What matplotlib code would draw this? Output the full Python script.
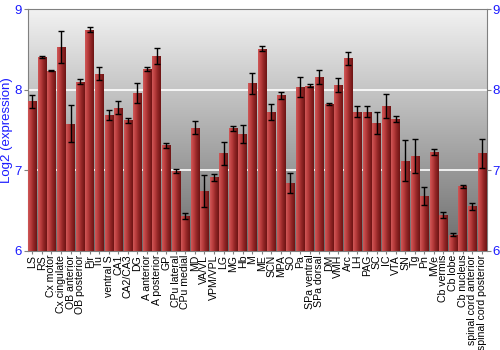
import numpy as np
import matplotlib.pyplot as plt
from matplotlib.colors import LinearSegmentedColormap

plt.rcParams["font.family"] = ["Liberation Sans", "DejaVu Sans"]

regions = [
    "LS", "RS", "Cx motor", "Cx cingulate", "OB anterior", "OB posterior", "Pir", "Tu",
    "ventral S", "CA1", "CA2/CA3", "DG", "A anterior", "A posterior", "GP", "CPu lateral",
    "CPu medial", "MD", "VA/VL", "VPM/VPL", "LG", "MG", "Hb", "M", "ME", "SCN", "MPA", "SO",
    "Pa", "SPa ventral", "SPa dorsal", "DM", "VMH", "Arc", "LH", "PAG", "SC", "IC", "VTA",
    "SN", "Tg", "Pn", "MVe", "Cb vermis", "Cb lobe", "Cb nucleus", "spinal cord anterior",
    "spinal cord posterior",
]
expression = [
    7.86, 8.41, 8.24, 8.53, 7.58, 8.10, 8.75, 8.20,
    7.69, 7.78, 7.62, 7.96, 8.26, 8.42, 7.31, 6.99,
    6.43, 7.53, 6.74, 6.91, 7.21, 7.52, 7.45, 8.08, 8.51, 7.72, 7.93, 6.84,
    8.04, 8.05, 8.16, 7.82, 8.06, 8.39, 7.73, 7.73, 7.59, 7.80, 7.64,
    7.12, 7.18, 6.68, 7.23, 6.44, 6.20, 6.80, 6.55,
    7.21,
]
errors = [
    0.08, 0.01, 0.01, 0.20, 0.23, 0.03, 0.03, 0.08,
    0.06, 0.08, 0.03, 0.13, 0.03, 0.10, 0.03, 0.03,
    0.04, 0.085, 0.20, 0.04, 0.14, 0.03, 0.11, 0.13, 0.03, 0.10, 0.04, 0.12,
    0.125, 0.02, 0.09, 0.01, 0.09, 0.085, 0.07, 0.07, 0.14, 0.15, 0.04,
    0.25, 0.21, 0.11, 0.04, 0.04, 0.02, 0.02, 0.04,
    0.18,
]

BLUE = "#1a1aff"
x = np.arange(len(regions))

fig = plt.figure(figsize=(5, 3.5), dpi=100)
ax = fig.add_axes([0.055, 0.284, 0.918, 0.689])
ax.set_xlim(-0.5, len(regions) - 0.5)
ax.set_ylim(6, 9)

# vertical grey gradient behind the bars
bg = LinearSegmentedColormap.from_list("bg", ["#6c6c6c", "#f2f2f2"])
ax.imshow(np.linspace(0, 1, 256).reshape(-1, 1), cmap=bg, origin="lower", aspect="auto",
          extent=(-0.5, len(regions) - 0.5, 6, 9), zorder=0)
for level in (7, 8):
    ax.axhline(level, color="white", linewidth=1.2, zorder=1)

bars = ax.bar(x, [v - 6 for v in expression], bottom=6, width=0.88, color="#a83232", zorder=2)
red = LinearSegmentedColormap.from_list("red", ["#d05858", "#b83c3c", "#8e2424", "#6e1414"])
grad = np.linspace(0, 1, 64).reshape(1, -1)
for patch in bars:
    x0, y0 = patch.get_x(), patch.get_y()
    im = ax.imshow(grad, cmap=red, aspect="auto", zorder=3,
                   extent=(x0, x0 + patch.get_width(), y0, y0 + patch.get_height()))
    im.set_clip_path(patch)

ax.errorbar(x, expression, yerr=errors, fmt="none", ecolor="black", elinewidth=1.0,
            capsize=2, capthick=1.0, zorder=4)
ax.set_xlim(-0.5, len(regions) - 0.5)
ax.set_ylim(6, 9)

ax.set_xticks(x)
ax.set_xticklabels(regions, rotation=90, fontsize=7.6)
ax.tick_params(axis="x", length=2, pad=1, color="#808080")
ax.set_yticks([6, 7, 8, 9])
ax.tick_params(axis="y", which="both", left=True, right=True, labelleft=True, labelright=True,
               labelcolor=BLUE, labelsize=9.5, length=3, pad=1, color="#808080")
ax.set_ylabel("Log2 (expression)", color=BLUE, fontsize=9.5, labelpad=1)
for spine in ax.spines.values():
    spine.set_color("#808080")

fig.savefig("out.png", dpi=100)
plt.close(fig)
